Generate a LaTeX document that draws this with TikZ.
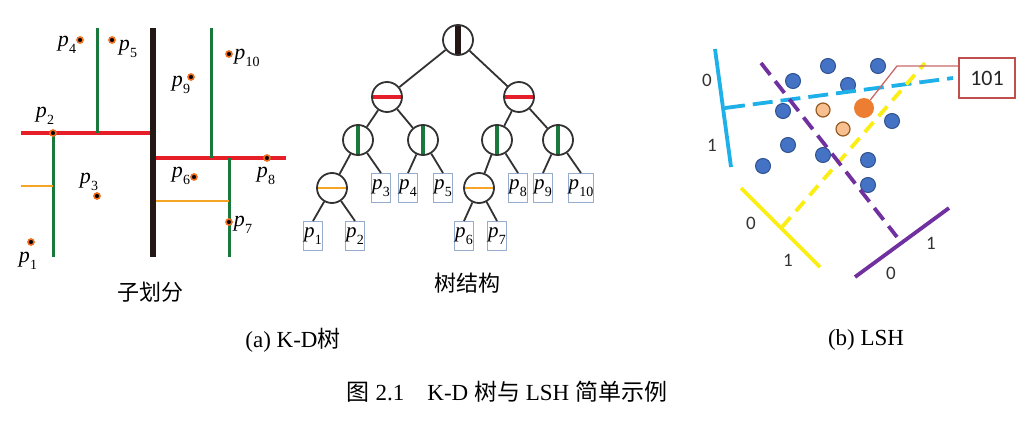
\documentclass[tikz,border=0pt]{standalone}
\usepackage{fontspec}
\setmainfont{Liberation Serif}
\newfontfamily\cjk{Noto Sans CJK SC}
\newfontfamily\calfont{Carlito}
\newcommand\plab[1]{\textit{p}\kern0.3pt\raisebox{-0.3em}{\fontsize{14}{14}\selectfont #1}}
\definecolor{kdred}{RGB}{230,30,40}
\definecolor{kdgreen}{RGB}{25,120,60}
\definecolor{kdorange}{RGB}{245,165,35}
\definecolor{kdblack}{RGB}{35,24,21}
\definecolor{ptring}{RGB}{240,110,30}
\definecolor{edgecol}{RGB}{50,50,50}
\definecolor{leafcol}{RGB}{150,172,205}
\definecolor{lshcyan}{RGB}{30,176,232}
\definecolor{lshyellow}{RGB}{250,238,20}
\definecolor{lshpurple}{RGB}{112,48,160}
\definecolor{dotblue}{RGB}{68,114,196}
\definecolor{dotblueb}{RGB}{47,82,143}
\definecolor{dotlight}{RGB}{248,191,145}
\definecolor{dotlightb}{RGB}{150,90,30}
\definecolor{dotbig}{RGB}{237,125,49}
\definecolor{boxred}{RGB}{192,80,77}
\begin{document}
\begin{tikzpicture}[x=1pt,y=-1pt,
  redl/.style={draw=kdred,line width=3.5pt},
  greenl/.style={draw=kdgreen,line width=3pt},
  orangel/.style={draw=kdorange,line width=2.5pt},
  blackl/.style={draw=kdblack,line width=6pt},
  ptdot/.style={fill=black,draw=ptring,line width=1.6pt},
  plabel/.style={inner sep=0pt,font=\fontsize{22}{22}\selectfont},
  tnode/.style={circle,draw=edgecol,line width=1.8pt,minimum size=30pt,inner sep=0pt,fill=white},
  barv/.style={path picture={\draw[draw=#1] (path picture bounding box.north) -- (path picture bounding box.south);}},
  barh/.style={path picture={\draw[draw=#1] (path picture bounding box.west) -- (path picture bounding box.east);}},
  leaf/.style={rectangle,draw=leafcol,line width=1pt,minimum width=18pt,minimum height=29pt,inner sep=0.5pt,font=\fontsize{21}{21}\selectfont},
  tedge/.style={draw=edgecol,line width=1.8pt},
  captext/.style={inner sep=0pt,font=\fontsize{23}{23}\selectfont},
  subcap/.style={inner sep=0pt,font=\fontsize{22}{22}\selectfont\cjk},
  bitlab/.style={inner sep=0pt,font=\fontsize{19}{19}\selectfont\calfont,text=black!80},
  bluedot/.style={fill=dotblue,draw=dotblueb,line width=1pt},
  lightdot/.style={fill=dotlight,draw=dotlightb,line width=1.2pt},
  cyanl/.style={draw=lshcyan,line width=3.8pt},
  yellowl/.style={draw=lshyellow,line width=3.8pt},
  purplel/.style={draw=lshpurple,line width=3.8pt}
]
\fill[white] (0,0) rectangle (1024,420);
\useasboundingbox (0,0) rectangle (1024,420);

% ---------- left: subdivision ----------
\draw[redl] (21,133) -- (153,133);
\draw[redl] (153,158) -- (286,158);
\draw[greenl] (97,28) -- (97,133);
\draw[greenl] (53,133) -- (53,257);
\draw[greenl] (211,28) -- (211,158);
\draw[greenl] (229,158) -- (229,257);
\draw[orangel] (21,186) -- (53,186);
\draw[orangel] (153,201) -- (229,201);
\draw[blackl] (153,28) -- (153,257);

\foreach \x/\y in {80/40,112/40,229/54,191/77,53/133,97/196,194/177,267/158,229/222,31/242}
  \draw[ptdot] (\x,\y) circle[radius=3pt];

\node[plabel] (lp4) at (67,45) {\plab{4}};
\node[plabel] (lp5) at (128,49) {\plab{5}};
\node[plabel] (lp10) at (247,58) {\plab{10}};
\node[plabel] (lp9) at (181,85) {\plab{9}};
\node[plabel] (lp2) at (45,116) {\plab{2}};
\node[plabel] (lp3) at (89,182) {\plab{3}};
\node[plabel] (lp6) at (181,176) {\plab{6}};
\node[plabel] (lp8) at (266,176) {\plab{8}};
\node[plabel] (lp7) at (243,225) {\plab{7}};
\node[plabel] (lp1) at (28,261) {\plab{1}};
\node[subcap] (c1) at (150,292) {子划分};

% ---------- middle: tree ----------
\node[tnode,barv={kdblack,line width=6pt}] (t0) at (458,40) {};
\node[tnode,barh={kdred,line width=3.8pt}] (tL) at (387,97) {};
\node[tnode,barh={kdred,line width=3.8pt}] (tR) at (519,97) {};
\node[tnode,barv={kdgreen,line width=3.2pt}] (tLL) at (358,140) {};
\node[tnode,barv={kdgreen,line width=3.2pt}] (tLR) at (423,140) {};
\node[tnode,barv={kdgreen,line width=3.2pt}] (tRL) at (497,140) {};
\node[tnode,barv={kdgreen,line width=3.2pt}] (tRR) at (558,140) {};
\node[tnode,barh={kdorange,line width=2.5pt}] (tO1) at (332,188) {};
\node[tnode,barh={kdorange,line width=2.5pt}] (tO2) at (479,188) {};

\node[leaf] (b3) at (381,188) {\plab{3}};
\node[leaf] (b4) at (408,188) {\plab{4}};
\node[leaf] (b5) at (443,188) {\plab{5}};
\node[leaf] (b8) at (518,188) {\plab{8}};
\node[leaf] (b9) at (543,188) {\plab{9}};
\node[leaf] (b10) at (581,188) {\plab{10}};
\node[leaf] (b1) at (313,236) {\plab{1}};
\node[leaf] (b2) at (355,236) {\plab{2}};
\node[leaf] (b6) at (464,236) {\plab{6}};
\node[leaf] (b7) at (497,236) {\plab{7}};

\draw[tedge] (t0) -- (tL);
\draw[tedge] (t0) -- (tR);
\draw[tedge] (tL) -- (tLL);
\draw[tedge] (tL) -- (tLR);
\draw[tedge] (tR) -- (tRL);
\draw[tedge] (tR) -- (tRR);
\draw[tedge] (tLL) -- (tO1);
\draw[tedge] (tLL) -- (b3.north);
\draw[tedge] (tLR) -- (b4.north);
\draw[tedge] (tLR) -- (b5.north);
\draw[tedge] (tRL) -- (tO2);
\draw[tedge] (tRL) -- (b8.north);
\draw[tedge] (tRR) -- (b9.north);
\draw[tedge] (tRR) -- (b10.north);
\draw[tedge] (tO1) -- (b1.north);
\draw[tedge] (tO1) -- (b2.north);
\draw[tedge] (tO2) -- (b6.north);
\draw[tedge] (tO2) -- (b7.north);
\node[subcap] (c2) at (467,283) {树结构};

% ---------- right: LSH ----------
\foreach \x/\y in {828/66,878/66,793/81,848/85,783/111,892/121,788/145,823/155,868/160,763/166,868/185}
  \draw[bluedot] (\x,\y) circle[radius=7.5pt];
\draw[lightdot] (823,110) circle[radius=7pt];
\draw[lightdot] (843,129) circle[radius=7pt];
\node[circle,fill=dotbig,minimum size=20pt,inner sep=0pt] (big) at (864,108) {};

\draw[cyanl] (715,49) -- (731,167);
\draw[yellowl] (741,188) -- (820,267);
\draw[purplel] (855,277) -- (949,208);
\draw[cyanl,dash pattern=on 20pt off 8pt] (725,108) -- (953,78);
\draw[yellowl,dash pattern=on 13pt off 8pt] (782,227) -- (925,63);
\draw[purplel,dash pattern=on 15pt off 8pt] (761,63) -- (897,237);

\node[bitlab] (c0) at (707,80) {0};
\node[bitlab] (c1b) at (712,145) {1};
\node[bitlab] (y0) at (751,223) {0};
\node[bitlab] (y1) at (788,260) {1};
\node[bitlab] (u0) at (891,273) {0};
\node[bitlab] (u1) at (931,243) {1};

\node[draw=boxred,line width=1.6pt,minimum width=56pt,minimum height=40pt,inner sep=0pt,font=\fontsize{22}{22}\selectfont\calfont,text=black!85] (box) at (987,78) {101};
\coordinate (kink) at (897,66);
\draw[draw=boxred!85,line width=1.3pt] (box.west |- kink) -- (kink) -- (big);

% ---------- captions ----------
\node[captext] (capa) at (293,340) {(a) K-D{\cjk 树}};
\node[captext] (capb) at (866,340) {(b) LSH};
\node[captext] (capm) at (507,392) {{\cjk 图} 2.1\quad K-D {\cjk 树与} LSH {\cjk 简单示例}};
\end{tikzpicture}
\end{document}
